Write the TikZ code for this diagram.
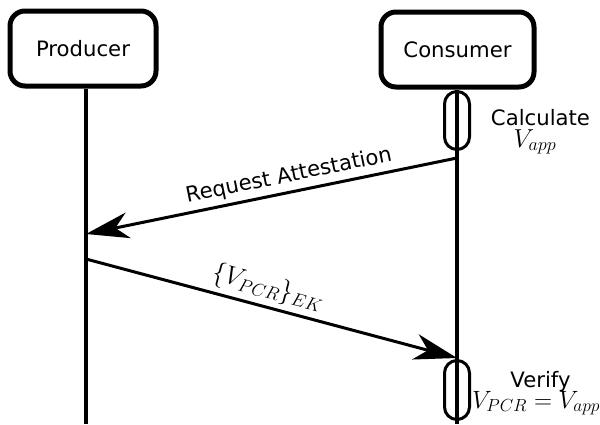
\RequirePackage{fix-cm}
\documentclass[tikz,border=0pt]{standalone}
\usepackage{fontspec}
\setmainfont{DejaVu Sans}
\usetikzlibrary{arrows.meta}
\newcommand\txtfont{\fontsize{21.2}{25}\selectfont}
\newcommand\mthfont{\fontsize{26}{31}\selectfont}
\newcommand\mthsmallfont{\fontsize{25}{30}\selectfont}
\begin{document}
\begin{tikzpicture}[x=1pt,y=-1pt,
  actor/.style={draw, line width=5pt, rounded corners=15pt, font=\txtfont},
  life/.style={line width=3.5pt},
  act/.style={draw, line width=3pt, minimum width=25pt, rounded corners=12.5pt, inner sep=0pt},
  msg/.style={line width=3pt, -{Stealth[length=43pt,width=26pt,inset=13pt]}},
  lbl/.style={font=\txtfont, inner sep=0pt},
  mlbl/.style={font=\mthfont, inner sep=0pt}]
\useasboundingbox (0,0) rectangle (600,424);
\node[actor, minimum width=146pt, minimum height=75pt] (prod) at (83,48.5) {Producer};
\node[actor, minimum width=153pt, minimum height=75pt] (cons) at (457.5,49.5) {Consumer};
\coordinate (pb) at (86,424);
\coordinate (cb) at (457,424);
\draw[life] (pb |- prod.south) -- (pb);
\draw[life] (cb |- cons.south) -- (cb);
\node[act, minimum height=58pt] (calc) at (457,120.5) {};
\node[act, minimum height=59pt] (ver) at (457,390) {};
\coordinate (m1s) at (457,158);
\coordinate (m1e) at (86,234);
\coordinate (m2s) at (86,259);
\coordinate (m2e) at (457,358);
\draw[msg] (m1s) -- (m1e);
\draw[msg] (m2s) -- (m2e);
\node[lbl, rotate=11.55] (l1) at (289,176) {Request Attestation};
\node[mlbl, rotate=-14.9] (l2) at (268,288) {$\{V_{PCR}\}_{EK}$};
\node[lbl, anchor=base] (t1) at (540.5,125) {Calculate};
\node[mlbl, anchor=base] (t2) at (535,147) {$V_{app}$};
\node[lbl, anchor=base] (t3) at (540.5,387) {Verify};
\node[mlbl, font=\mthsmallfont, anchor=base west] (t4) at (472,408) {$V_{PCR}=V_{app}$};
\end{tikzpicture}
\end{document}
